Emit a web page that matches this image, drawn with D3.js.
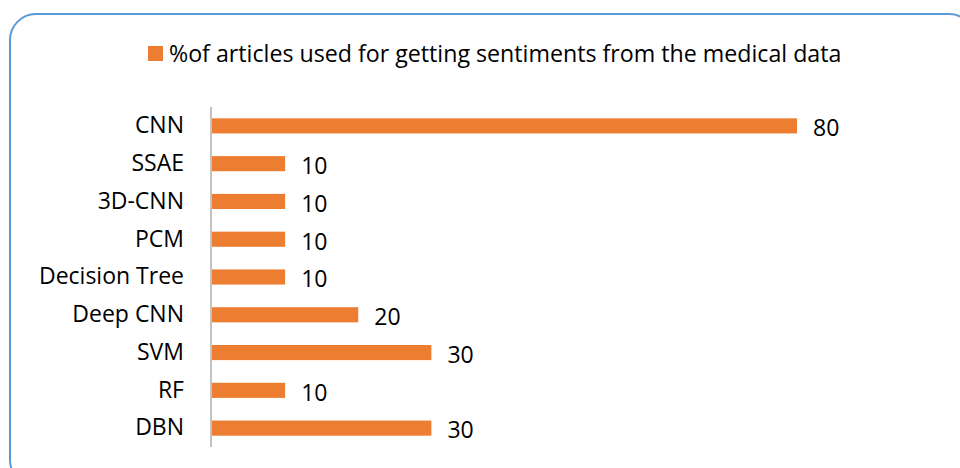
<!DOCTYPE html>
<html><head><meta charset="utf-8">
<script src="https://cdn.jsdelivr.net/npm/d3@7"></script>
<style>body{margin:0;background:#fff}svg{display:block}text{font-family:"Open Sans",Lato,sans-serif;fill:#000}</style>
</head><body><svg id="c" width="960" height="468"></svg>
<script>
const categories = ["CNN","SSAE","3D-CNN","PCM","Decision Tree","Deep CNN","SVM","RF","DBN"];
const values = [80,10,10,10,10,20,30,10,30];
const seriesName = "%of articles used for getting sentiments from the medical data";

const svg = d3.select("#c");
svg.append("rect").attr("x",10).attr("y",14).attr("width",965).attr("height",472)
  .attr("rx",26).attr("ry",26).attr("fill","#fff").attr("stroke","#5B9BD5").attr("stroke-width",2);

const x = d3.scaleLinear().domain([0,80]).range([212,797]);
const y = d3.scaleBand().domain(categories).range([107,447]).paddingInner(0.6).paddingOuter(0.3);

svg.selectAll("rect.bar").data(categories).join("rect").attr("class","bar")
  .attr("x",x(0)).attr("y",d=>y(d)).attr("height",y.bandwidth())
  .attr("width",(d,i)=>x(values[i])-x(0)).attr("fill","#ED7D31");

const yAxis = svg.append("g").attr("transform","translate(211,0)")
  .call(d3.axisLeft(y).tickSize(0).tickPadding(27));
yAxis.select(".domain").attr("stroke","#868686").attr("d","M0,107V447");
yAxis.selectAll("text").style("font-size","23px").attr("fill","#000");

svg.selectAll("text.val").data(categories).join("text").attr("class","val")
  .attr("x",(d,i)=>x(values[i])+16).attr("y",d=>y(d)+y.bandwidth()/2)
  .attr("dy","0.45em").style("font-size","23px").text((d,i)=>values[i]);

svg.append("rect").attr("x",148).attr("y",46).attr("width",15).attr("height",15).attr("fill","#ED7D31");
svg.append("text").attr("x",169).attr("y",54).attr("dy","0.35em").style("font-size","23.2px").text(seriesName);
</script></body></html>
